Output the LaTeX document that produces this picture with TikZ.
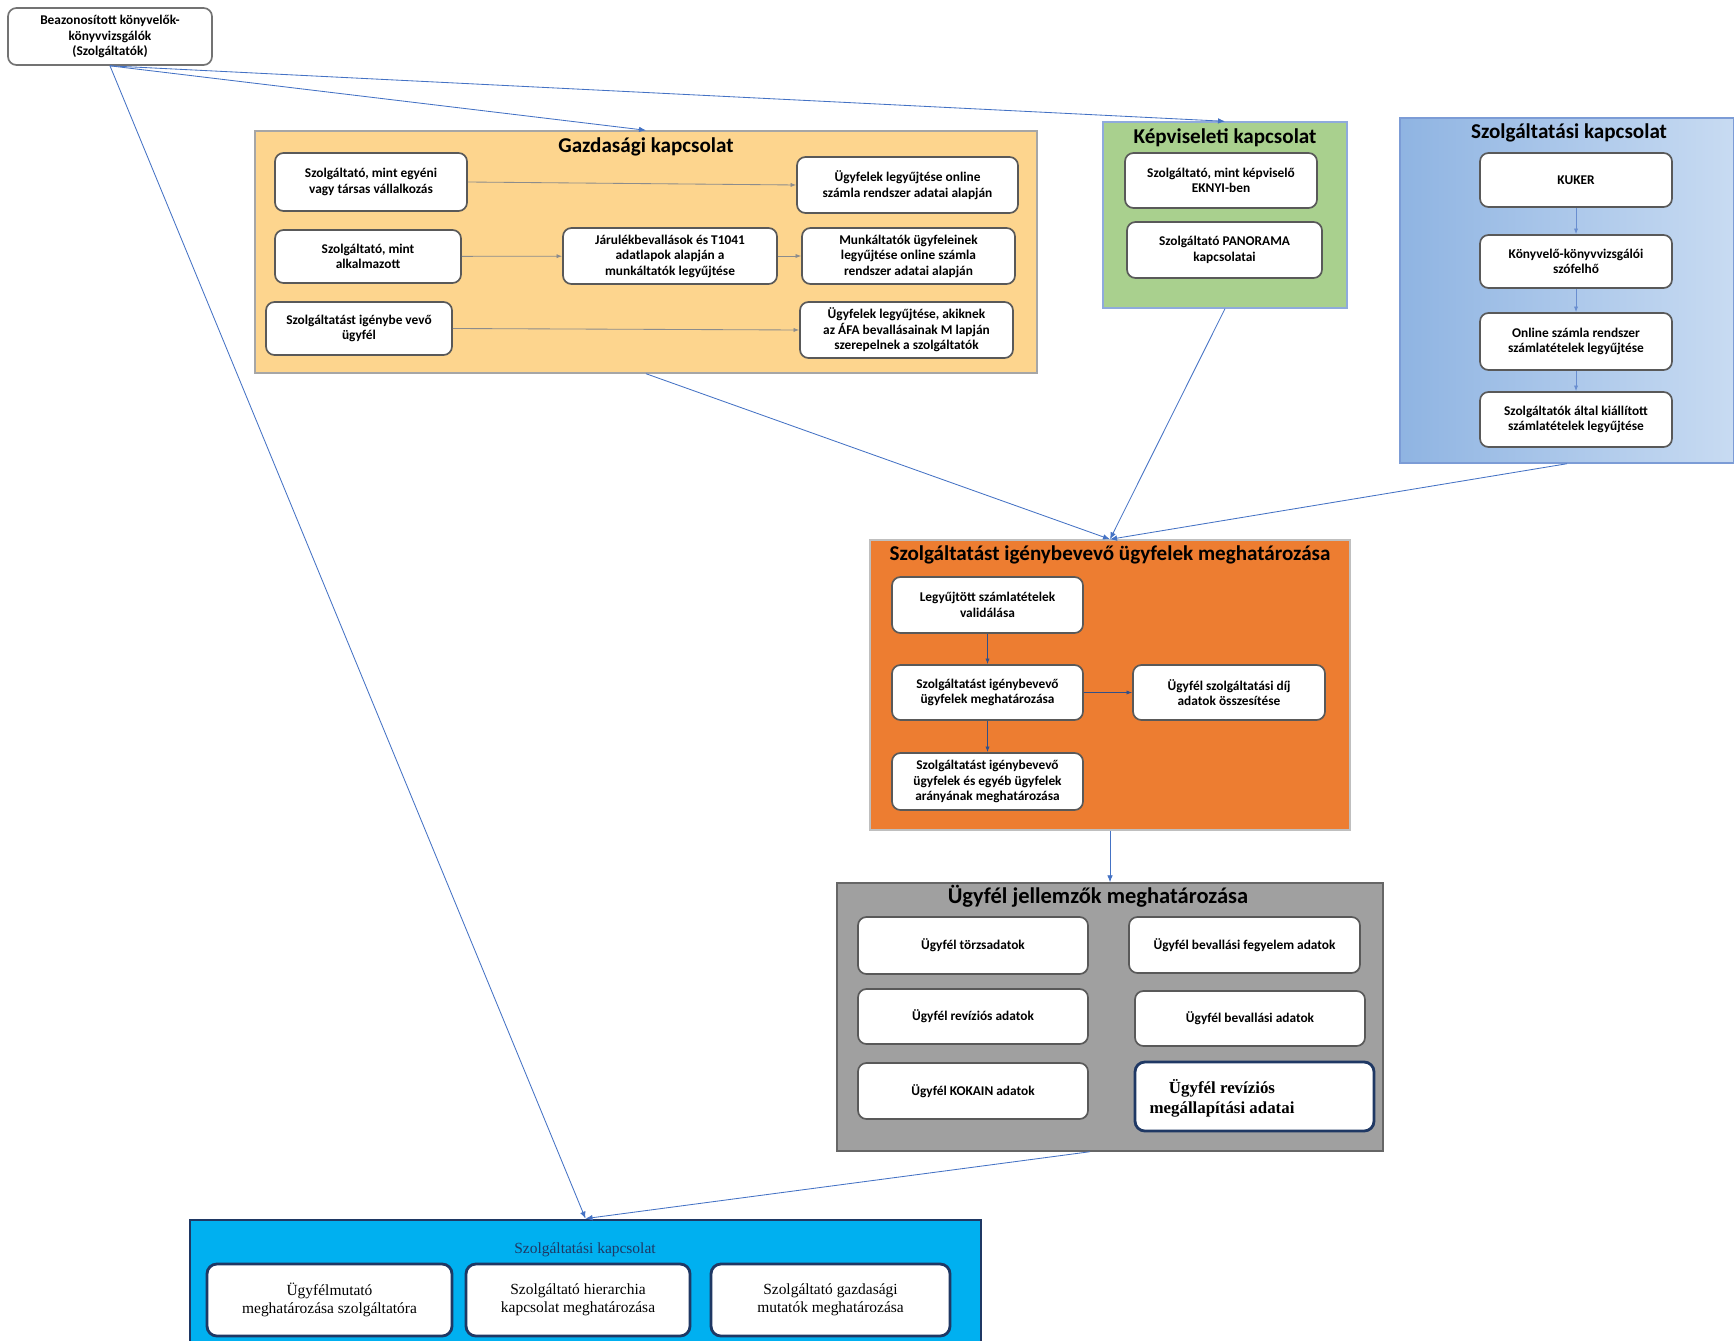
\documentclass[tikz,border=0pt]{standalone}
\usepackage{fontspec}
\setmainfont{Carlito}
\newfontfamily\serifbox{Liberation Serif}
\usetikzlibrary{arrows.meta,calc}
\definecolor{gazdfill}{RGB}{253,213,142}
\definecolor{kepfill}{RGB}{169,208,142}
\definecolor{szkleft}{RGB}{143,180,226}
\definecolor{szkright}{RGB}{200,219,242}
\definecolor{igfill}{RGB}{237,125,49}
\definecolor{jelfill}{RGB}{160,160,160}
\definecolor{szfill}{RGB}{0,176,240}
\definecolor{navy}{RGB}{31,56,100}
\definecolor{arrowblue}{RGB}{68,114,196}
\begin{document}
\begin{tikzpicture}[x=0.025cm, y=-0.025cm,
    cont/.style 2 args={rectangle, minimum width=#1*0.025cm, minimum height=#2*0.025cm, line width=1pt},
    inbox/.style 2 args={draw=black!65, line width=1.2pt, fill=white, rounded corners=6pt,
        minimum width=#1*0.025cm, minimum height=#2*0.025cm, align=center,
        font=\bfseries\fontsize{9.5}{11}\selectfont},
    serbox/.style 2 args={draw=navy, line width=2pt, fill=white, rounded corners=7pt,
        minimum width=#1*0.025cm, minimum height=#2*0.025cm, align=center,
        font=\serifbox\fontsize{11}{13}\selectfont},
    title/.style={font=\bfseries\fontsize{15}{17}\selectfont},
    link/.style={draw=arrowblue, line width=0.6pt, -{Latex[length=5pt,width=4pt]}},
    inlink/.style={draw=black!45, line width=0.6pt, -{Latex[length=4pt,width=3pt]}}]
\useasboundingbox (0,0) rectangle (1734,1340);

% containers
\node[cont={782}{242}, fill=gazdfill, draw=black!35] (gazd) at (646,252) {};
\node[cont={244}{186}, fill=kepfill, draw=arrowblue!60] (kep) at (1225,215) {};
\node[cont={334}{345}, left color=szkleft, right color=szkright, draw=arrowblue!70] (szk) at (1567,290.5) {};
\node[cont={480}{290}, fill=igfill, draw=black!25] (ig) at (1110,685) {};
\node[cont={546}{268}, fill=jelfill, draw=black!60] (jel) at (1110,1017) {};
\node[cont={791}{122}, fill=szfill, draw=navy, line width=2pt] (sz) at (585.5,1281) {};

\node[title] at (646,147) {Gazdasági kapcsolat};
\node[title] at (1225,138) {Képviseleti kapcsolat};
\node[title] at (1569,133) {Szolgáltatási kapcsolat};
\node[title] at (1110,555) {Szolgáltatást igénybevevő ügyfelek meghatározása};
\node[title, font=\bfseries\fontsize{16}{18}\selectfont] at (1098,896) {Ügyfél jellemzők meghatározása};
\node[font=\serifbox\fontsize{11}{13}\selectfont, text=navy] at (585,1250) {Szolgáltatási kapcsolat};

% top left
\node[inbox={204}{57}, draw=black!55] (tl) at (110,36.5)
    {Beazonosított könyvelők-\\könyvvizsgálók\\(Szolgáltatók)};

% gazdasagi
\node[inbox={192}{58}] (g1) at (371,182) {Szolgáltató, mint egyéni\\vagy társas vállalkozás};
\node[inbox={186}{53}] (g2) at (368,256.5) {Szolgáltató, mint\\alkalmazott};
\node[inbox={186}{53}] (g3) at (359,328.5) {Szolgáltatást igénybe vevő\\ügyfél};
\node[inbox={214}{56}] (g4) at (670,256) {Járulékbevallások és T1041\\adatlapok alapján a\\munkáltatók legyűjtése};
\node[inbox={221}{56}] (g5) at (907.5,185) {Ügyfelek legyűjtése online\\számla rendszer adatai alapján};
\node[inbox={213}{56}] (g6) at (908.5,256) {Munkáltatók ügyfeleinek\\legyűjtése online számla\\rendszer adatai alapján};
\node[inbox={213}{56}] (g7) at (906.5,330) {Ügyfelek legyűjtése, akiknek\\az ÁFA bevallásainak M lapján\\szerepelnek a szolgáltatók};
\draw[inlink] (g1.east) -- (g5.west);
\draw[inlink] (g2) -- (g4);
\draw[inlink] (g4) -- (g6);
\draw[inlink] (g3.east) -- (g7.west);

% kepviseleti
\node[inbox={192}{55}] (k1) at (1221,180.5) {Szolgáltató, mint képviselő\\EKNYI-ben};
\node[inbox={195}{56}] (k2) at (1224.5,250) {Szolgáltató PANORAMA\\kapcsolatai};

% szolgaltatasi
\node[inbox={192}{54}] (s1) at (1576,180) {KUKER};
\node[inbox={192}{53}] (s2) at (1576,261.5) {Könyvelő-könyvvizsgálói\\szófelhő};
\node[inbox={192}{57}] (s3) at (1576,341.5) {Online számla rendszer\\számlatételek legyűjtése};
\node[inbox={192}{55}] (s4) at (1576,419.5) {Szolgáltatók által kiállított\\számlatételek legyűjtése};
\foreach \a/\b in {s1/s2,s2/s3,s3/s4}
    \draw[inlink, draw=arrowblue!80] (\a) -- (\b);

% igenybevevok
\node[inbox={191}{56}] (i1) at (987.5,605) {Legyűjtött számlatételek\\validálása};
\node[inbox={191}{55}] (i2) at (987.5,692.5) {Szolgáltatást igénybevevő\\ügyfelek meghatározása};
\node[inbox={191}{57}] (i3) at (987.5,781.5) {Szolgáltatást igénybevevő\\ügyfelek és egyéb ügyfelek\\arányának meghatározása};
\node[inbox={192}{55}] (i4) at (1229,692.5) {Ügyfél szolgáltatási díj\\adatok összesítése};
\foreach \a/\b in {i1/i2,i2/i3,i2/i4}
    \draw[inlink, draw=arrowblue!70!black] (\a) -- (\b);

% jellemzok
\node[inbox={230}{57}] (j1) at (973,945.5) {Ügyfél törzsadatok};
\node[inbox={230}{55}] (j2) at (973,1016.5) {Ügyfél revíziós adatok};
\node[inbox={230}{56}] (j3) at (973,1091) {Ügyfél KOKAIN adatok};
\node[inbox={231}{56}] (j4) at (1244.5,945) {Ügyfél bevallási fegyelem adatok};
\node[inbox={230}{55}] (j5) at (1250,1018.5) {Ügyfél bevallási adatok};
\node[serbox={239}{69}] (j6) at (1254.5,1096.5) {};
\node[font=\serifbox\bfseries\fontsize{12}{14}\selectfont, align=center] (j6t) at (1222,1098)
    {Ügyfél revíziós\\megállapítási adatai};

% szolgaltatasi kapcsolat (bottom)
\node[serbox={245}{72}] (b1) at (329.5,1300) {Ügyfélmutató\\meghatározása szolgáltatóra};
\node[serbox={224}{72}] (b2) at (578,1300) {Szolgáltató hierarchia\\kapcsolat meghatározása};
\node[serbox={239}{72}] (b3) at (830.5,1300) {Szolgáltató gazdasági\\mutatók meghatározása};

% connectors
\foreach \t in {gazd,kep,sz}
    \draw[link] (tl.south) -- (\t.north);
\foreach \t in {gazd,kep,szk}
    \draw[link] (\t.south) -- (ig.north);
\draw[link] (ig.south) -- (jel.north);
\draw[link] ($(jel.south)+(-20,0)$) -- (sz.north);
\end{tikzpicture}
\end{document}
